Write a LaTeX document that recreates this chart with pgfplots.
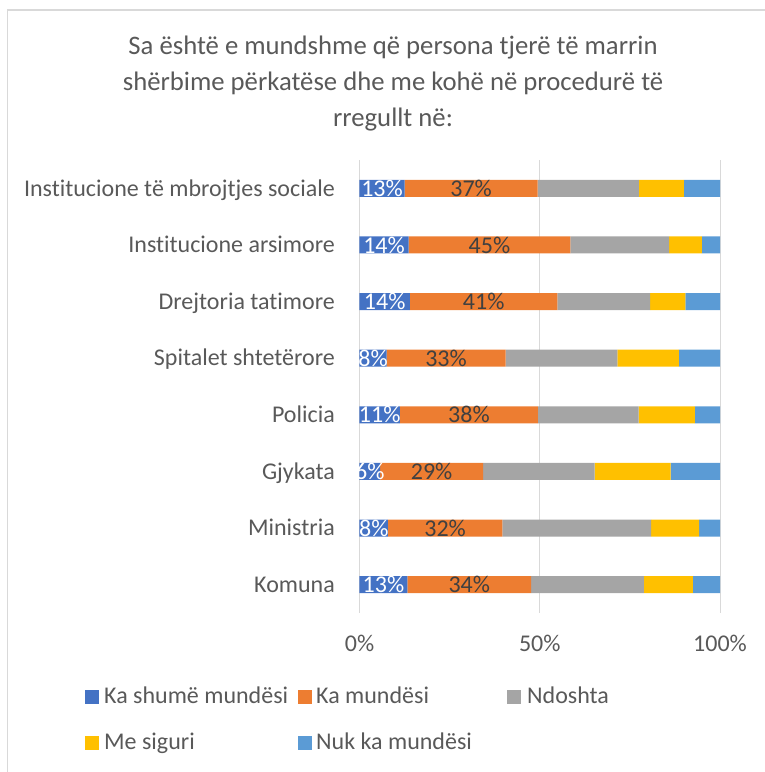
\documentclass[border=0pt]{standalone}
\usepackage{pgfplots}
\pgfplotsset{compat=1.18}
\usepackage{fontspec}
\setmainfont{Carlito}[Ligatures=NoCommon]
\definecolor{c1}{HTML}{4472C4}
\definecolor{c2}{HTML}{ED7D31}
\definecolor{c3}{HTML}{A5A5A5}
\definecolor{c4}{HTML}{FFC000}
\definecolor{c5}{HTML}{5B9BD5}
\definecolor{txt}{HTML}{595959}
\definecolor{lbl}{HTML}{404040}
\definecolor{grd}{HTML}{D9D9D9}
\begin{document}
\begin{tikzpicture}
\fontsize{24}{29}\selectfont
\path[use as bounding box] (0pt,0pt) rectangle (765pt,772pt);
\draw[grd, line width=1.5pt] (7.5pt,0pt) -- (7.5pt,762pt) -- (765pt,762pt);
\node[txt, align=center, font=\fontsize{26.7}{36}\selectfont] at (393pt,688pt)
  {Sa është e mundshme që persona tjerë të marrin\\shërbime përkatëse dhe me kohë në procedurë të\\rregullt në:};
\begin{axis}[
  at={(359.5pt,159pt)}, anchor=south west,
  scale only axis, width=360.5pt, height=453pt,
  xbar stacked, bar width=17pt,
  xmin=0, xmax=100, ymin=-0.5, ymax=7.5,
  xtick={0,50,100}, xticklabels={0\%,50\%,100\%},
  ytick={0,1,2,3,4,5,6,7},
  yticklabels={Komuna, Ministria, Gjykata, Policia, Spitalet shtetërore, Drejtoria tatimore, Institucione arsimore, Institucione të mbrojtjes sociale},
  xmajorgrids, grid style={grd, line width=1pt},
  axis line style={draw=none},
  major tick length=0pt,
  tick label style={font=\fontsize{24}{29}\selectfont, text=txt, inner sep=0pt},
  x tick label style={anchor=base, yshift=-39pt},
  y tick label style={anchor=base east, xshift=-24.5pt, yshift=-7.7pt},
]
\addplot[fill=c1, draw=none] coordinates {(13.3,0) (7.9,1) (5.7,2) (11.2,3) (7.5,4) (14.0,5) (13.6,6) (12.5,7)};
\addplot[fill=c2, draw=none] coordinates {(34.3,0) (31.7,1) (28.6,2) (38.3,3) (33.0,4) (40.9,5) (44.9,6) (36.9,7)};
\addplot[fill=c3, draw=none] coordinates {(31.3,0) (41.3,1) (30.9,2) (27.9,3) (31.0,4) (25.7,5) (27.4,6) (28.1,7)};
\addplot[fill=c4, draw=none] coordinates {(13.6,0) (13.3,1) (21.1,2) (15.6,3) (17.1,4) (9.8,5) (9.1,6) (12.5,7)};
\addplot[fill=c5, draw=none] coordinates {(7.5,0) (5.8,1) (13.7,2) (7.0,3) (11.4,4) (9.6,5) (5.0,6) (10.0,7)};
\end{axis}
\begin{axis}[
  at={(359.5pt,159pt)}, anchor=south west,
  scale only axis, width=360.5pt, height=453pt,
  xmin=0, xmax=100, ymin=-0.5, ymax=7.5,
  hide axis, clip=false,
]
\addplot[draw=none, mark=none, nodes near coords, point meta=explicit symbolic,
  every node near coord/.append style={anchor=center, text=white, inner sep=0pt, font=\fontsize{24}{29}\selectfont}]
  coordinates {(6.65,0) [13\%] (3.95,1) [8\%] (2.85,2) [6\%] (5.6,3) [11\%] (3.75,4) [8\%] (7.0,5) [14\%] (6.8,6) [14\%] (6.25,7) [13\%]};
\addplot[draw=none, mark=none, nodes near coords, point meta=explicit symbolic,
  every node near coord/.append style={anchor=center, text=lbl, inner sep=0pt, font=\fontsize{24}{29}\selectfont}]
  coordinates {(30.45,0) [34\%] (23.75,1) [32\%] (20.0,2) [29\%] (30.35,3) [38\%] (24.0,4) [33\%] (34.45,5) [41\%] (36.05,6) [45\%] (30.95,7) [37\%]};
\end{axis}
% legend
\fill[c1] (84.5pt,68pt) rectangle ++(14pt,14pt);
\node[txt, anchor=base west, inner sep=0pt] at (104pt,68pt) {Ka shumë mundësi};
\fill[c2] (297.5pt,68pt) rectangle ++(14pt,14pt);
\node[txt, anchor=base west, inner sep=0pt] at (316pt,68pt) {Ka mundësi};
\fill[c3] (507pt,68pt) rectangle ++(14pt,14pt);
\node[txt, anchor=base west, inner sep=0pt] at (527pt,68pt) {Ndoshta};
\fill[c4] (84.5pt,22pt) rectangle ++(14pt,14pt);
\node[txt, anchor=base west, inner sep=0pt] at (104pt,22pt) {Me siguri};
\fill[c5] (297.5pt,22pt) rectangle ++(14pt,14pt);
\node[txt, anchor=base west, inner sep=0pt] at (316pt,22pt) {Nuk ka mundësi};
\end{tikzpicture}
\end{document}
